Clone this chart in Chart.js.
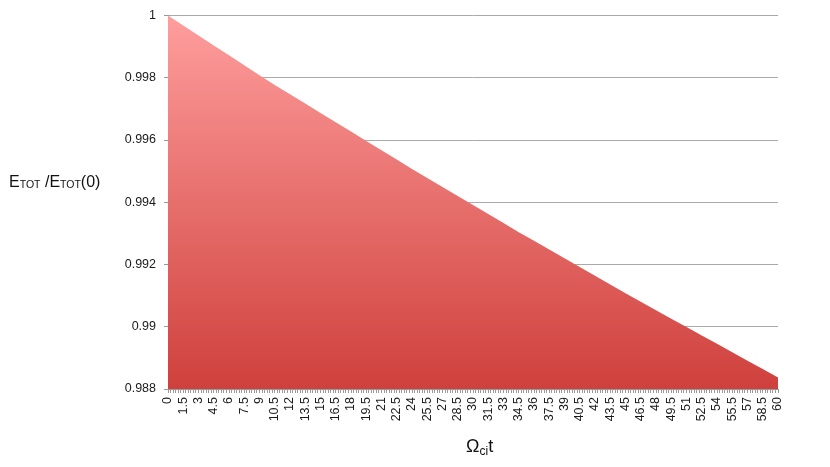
<!DOCTYPE html>
<html>
<head>
<meta charset="utf-8">
<script src="https://cdn.jsdelivr.net/npm/chart.js@4"></script>
<style>
    body { margin: 0; background: #fff; }
    #wrap { position: relative; width: 830px; height: 467px; }
    .title { position: absolute; font-family: 'Liberation Sans', Arial, sans-serif; color: #111; white-space: nowrap; }
    .sub { font-size: 10.5px; position: relative; top: 1px; }
</style>
</head>
<body>
<div id="wrap">
    <canvas id="energyChart" width="830" height="467"></canvas>
    <div class="title" style="left:9px; top:173px; font-size:16px;">E<span class="sub">TOT</span> /E<span class="sub">TOT</span>(0)</div>
    <div class="title" style="left:466px; top:436px; font-size:18px;">Ω<span class="sub" style="font-size:12px; top:3px;">ci</span>t</div>
</div>
<script>
// Time (Omega_ci t) and total energy ratio
const times = [0, 1.5, 3, 4.5, 6, 7.5, 9, 10.5, 12, 13.5, 15, 16.5, 18, 19.5, 21, 22.5, 24, 25.5, 27, 28.5,
    30, 31.5, 33, 34.5, 36, 37.5, 39, 40.5, 42, 43.5, 45, 46.5, 48, 49.5, 51, 52.5, 54, 55.5, 57, 58.5, 60];
const energyRatio = [1.0000, 0.99968, 0.99936, 0.99904, 0.99872, 0.99840, 0.99808, 0.99777, 0.99747, 0.99717,
    0.99687, 0.99657, 0.99627, 0.99597, 0.99567, 0.99537, 0.99507, 0.99478, 0.99449, 0.99420,
    0.99391, 0.99362, 0.99333, 0.99304, 0.99276, 0.99248, 0.99220, 0.99192, 0.99164, 0.99136,
    0.99108, 0.99080, 0.99053, 0.99026, 0.98999, 0.98972, 0.98945, 0.98918, 0.98891, 0.98864, 0.98837];

Chart.defaults.font.family = "'Liberation Sans', Arial, sans-serif";
Chart.defaults.color = '#1a1a1a';

const ctx = document.getElementById('energyChart');

new Chart(ctx, {
    type: 'line',
    data: {
        datasets: [{
            data: times.map((t, i) => ({ x: t, y: energyRatio[i] })),
            borderWidth: 0,
            pointRadius: 0,
            fill: 'start',
            backgroundColor: function(context) {
                const area = context.chart.chartArea;
                if (!area) return '#e66';
                const g = context.chart.ctx.createLinearGradient(0, area.top, 0, area.bottom);
                g.addColorStop(0, '#fe9e9d');
                g.addColorStop(1, '#cf403c');
                return g;
            }
        }]
    },
    options: {
        responsive: false,
        animation: false,
        layout: {
            padding: { top: 13, right: 52, left: 0, bottom: 0 }
        },
        plugins: {
            legend: { display: false },
            tooltip: { enabled: false }
        },
        scales: {
            x: {
                type: 'linear',
                min: 0,
                max: 60,
                afterFit: function(scale) { scale.height = 78; },
                grid: {
                    drawOnChartArea: false,
                    tickLength: 4,
                    tickColor: '#9a9a9a'
                },
                border: { color: '#999' },
                ticks: {
                    stepSize: 0.25,
                    autoSkip: false,
                    minRotation: 90,
                    maxRotation: 90,
                    padding: 4,
                    font: { size: 12.5 },
                    callback: function(value) {
                        const k = value / 1.5;
                        return Math.abs(k - Math.round(k)) < 1e-6 ? String(Number(value.toFixed(1))) : '';
                    }
                }
            },
            y: {
                min: 0.988,
                max: 1,
                afterFit: function(scale) { scale.width = 168; },
                grid: {
                    color: '#aaa',
                    tickLength: 4,
                    tickColor: '#999'
                },
                border: { color: '#999' },
                ticks: {
                    stepSize: 0.002,
                    padding: 8,
                    font: { size: 12.5 },
                    callback: function(value) {
                        return String(Number(value.toFixed(3)));
                    }
                }
            }
        }
    }
});
</script>
</body>
</html>
